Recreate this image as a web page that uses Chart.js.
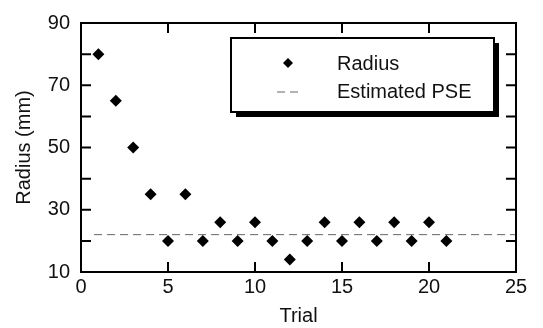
<!DOCTYPE html>
<html lang="en">
<head>
  <meta charset="UTF-8">
  <title>Radius per trial</title>
  <style>
    body {
      margin: 0;
      padding: 0;
      background: #fff;
    }
    .chart-container {
      width: 543px;
      height: 328px;
    }
  </style>
</head>
<body>

<div class="chart-container">
  <canvas id="radiusChart" width="543" height="328"></canvas>
</div>

<script src="https://cdn.jsdelivr.net/npm/chart.js"></script>
<script>
  // data
  const trials = [1, 2, 3, 4, 5, 6, 7, 8, 9, 10, 11, 12, 13, 14, 15, 16, 17, 18, 19, 20, 21];
  const radius = [80, 65, 50, 35, 20, 35, 20, 26, 20, 26, 20, 14, 20, 26, 20, 26, 20, 26, 20, 26, 20];
  const pseTrials = [0.75, 25];
  const pseValue = [22, 22];
  const yLabels = [10, 30, 50, 70, 90];
  const xMinorTicks = [5, 10, 15, 20];
  const yMinorTicks = [20, 30, 40, 50, 60, 70, 80];

  const FONT = '"Liberation Sans", Arial, sans-serif';
  const FSIZE = 20;

  // inner ticks + frame around the plot
  const frameTicks = {
    id: 'frameTicks',
    afterDraw(chart) {
      const {ctx, chartArea: a, scales: {x, y}} = chart;
      ctx.save();
      ctx.strokeStyle = '#000';
      ctx.lineWidth = 2;
      ctx.strokeRect(a.left, a.top, a.right - a.left, a.bottom - a.top);
      const len = 10;
      ctx.beginPath();
      xMinorTicks.forEach(v => {
        const px = x.getPixelForValue(v);
        ctx.moveTo(px, a.bottom); ctx.lineTo(px, a.bottom - len);
        ctx.moveTo(px, a.top); ctx.lineTo(px, a.top + len);
      });
      yMinorTicks.forEach(v => {
        const py = y.getPixelForValue(v);
        ctx.moveTo(a.left, py); ctx.lineTo(a.left + len, py);
        ctx.moveTo(a.right, py); ctx.lineTo(a.right - len, py);
      });
      ctx.stroke();
      ctx.restore();
    }
  };

  // boxed legend with drop shadow inside the plot
  const boxLegend = {
    id: 'boxLegend',
    afterDraw(chart) {
      const {ctx} = chart;
      const bx = 231, by = 38, bw = 263, bh = 74, sh = 5;
      ctx.save();
      ctx.fillStyle = '#000';
      ctx.fillRect(bx + sh, by + sh, bw, bh);
      ctx.fillStyle = '#fff';
      ctx.fillRect(bx, by, bw, bh);
      ctx.strokeStyle = '#000';
      ctx.lineWidth = 2;
      ctx.strokeRect(bx, by, bw, bh);

      const ds = chart.data.datasets;
      ctx.font = FSIZE + 'px ' + FONT;
      ctx.textBaseline = 'middle';
      ctx.textAlign = 'left';

      // Radius
      Chart.helpers.drawPoint(ctx, {pointStyle: 'rectRot', radius: 5, borderWidth: 0}, 288, 63);
      ctx.fillStyle = '#000';
      ctx.fill();
      ctx.fillStyle = '#111';
      ctx.fillText(ds[0].label, 337, 64);

      // Estimated PSE
      ctx.strokeStyle = ds[1].borderColor;
      ctx.lineWidth = 1;
      ctx.setLineDash(ds[1].borderDash);
      ctx.beginPath();
      ctx.moveTo(277, 92);
      ctx.lineTo(301, 92);
      ctx.stroke();
      ctx.setLineDash([]);
      ctx.fillText(ds[1].label, 337, 92);
      ctx.restore();
    }
  };

  const ctx = document.getElementById('radiusChart').getContext('2d');
  const radiusChart = new Chart(ctx, {
    type: 'scatter',
    data: {
      datasets: [{
        label: 'Radius',
        data: trials.map((t, i) => ({x: t, y: radius[i]})),
        pointStyle: 'rectRot',
        pointRadius: 6,
        backgroundColor: '#000',
        borderColor: '#000',
        borderWidth: 0
      }, {
        label: 'Estimated PSE',
        type: 'line',
        data: pseTrials.map((t, i) => ({x: t, y: pseValue[i]})),
        borderColor: '#666',
        borderWidth: 1,
        borderDash: [8, 5],
        pointRadius: 0,
        fill: false
      }]
    },
    options: {
      responsive: false,
      animation: false,
      layout: {
        padding: {left: 0, right: 27, top: 20, bottom: 0}
      },
      plugins: {
        legend: {display: false},
        tooltip: {enabled: false}
      },
      scales: {
        x: {
          type: 'linear',
          min: 0,
          max: 25,
          grid: {display: false, drawTicks: false},
          border: {display: false},
          ticks: {
            stepSize: 5,
            padding: 3,
            color: '#111',
            font: {family: FONT, size: FSIZE}
          },
          title: {
            display: true,
            text: 'Trial',
            color: '#111',
            font: {family: FONT, size: FSIZE},
            padding: {top: 0, bottom: 0}
          },
          afterFit(scale) { scale.height = 56; }
        },
        y: {
          min: 10,
          max: 90,
          grid: {display: false, drawTicks: false},
          border: {display: false},
          ticks: {
            stepSize: 10,
            padding: 11,
            color: '#111',
            font: {family: FONT, size: FSIZE},
            callback: v => yLabels.includes(v) ? v : ''
          },
          title: {
            display: true,
            text: 'Radius (mm)',
            color: '#111',
            font: {family: FONT, size: FSIZE},
            padding: {top: 12, bottom: 0}
          },
          afterFit(scale) { scale.width = 81; }
        }
      }
    },
    plugins: [frameTicks, boxLegend]
  });
</script>

</body>
</html>
